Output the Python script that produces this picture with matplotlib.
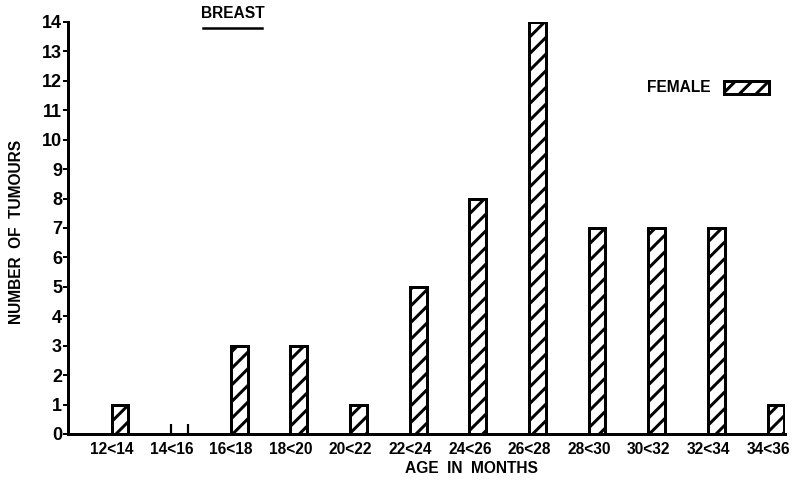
import matplotlib
matplotlib.use("Agg")
import matplotlib.pyplot as plt
from matplotlib.patches import Patch
from matplotlib.lines import Line2D
import matplotlib.transforms as mtrans

categories = ["12<14", "14<16", "16<18", "18<20", "20<22", "22<24",
              "24<26", "26<28", "28<30", "30<32", "32<34", "34<36"]
female = [1, 0, 3, 3, 1, 5, 8, 14, 7, 7, 7, 1]
yticks = list(range(0, 15))

DPI = 100
def px(v):
    """pixel size -> points at this dpi"""
    return v * 72.0 / DPI

plt.rcParams['font.family'] = ['Liberation Sans', 'DejaVu Sans']
plt.rcParams['font.weight'] = 'bold'
plt.rcParams['hatch.linewidth'] = px(3.0)
plt.rcParams['hatch.color'] = 'black'

fig = plt.figure(figsize=(793 / DPI, 484 / DPI), dpi=DPI)
ax = fig.add_axes([68 / 793, 1 - 434 / 484, (785 - 68) / 793, (434 - 22) / 484])

x = list(range(len(categories)))
w = 0.28
ax.bar([xi for xi, v in zip(x, female) if v > 0],
       [v for v in female if v > 0], width=w, color='white',
       edgecolor='black', linewidth=px(3), hatch='//', zorder=3)
# zero-valued class drawn as two short side strokes
for xi, v in zip(x, female):
    if v == 0:
        ax.vlines([xi - w / 2, xi + w / 2], 0, 0.35, color='black', lw=px(2.2), zorder=3)

ax.set_xlim(-0.87, 11.15)
ax.set_ylim(0, 14)
ax.set_yticks(yticks)
ax.set_yticklabels([str(t) for t in yticks], fontsize=px(18), fontweight='bold')
ax.set_xticks(x)
ax.set_xticklabels(categories, fontsize=px(15.5), fontweight='bold')
ax.tick_params(axis='x', length=0, pad=px(8))
ax.tick_params(axis='y', length=px(5), width=px(2), pad=px(1), direction='out')
off = mtrans.ScaledTranslation(-8 / DPI, 0, fig.dpi_scale_trans)
for lab in ax.get_xticklabels():
    lab.set_transform(lab.get_transform() + off)

for s in ['top', 'right']:
    ax.spines[s].set_visible(False)
for s in ['left', 'bottom']:
    ax.spines[s].set_linewidth(px(3))

ax.set_ylabel("NUMBER  OF  TUMOURS", fontsize=px(15.5), fontweight='bold')
ax.yaxis.set_label_coords(-0.061, 0.49)
ax.set_xlabel("AGE  IN  MONTHS", fontsize=px(15.5), fontweight='bold')
ax.xaxis.set_label_coords(0.563, -0.065)

# title with underline
fig.text(233 / 793, 1 - 14 / 484, "BREAST", fontsize=px(15.5), fontweight='bold',
         ha='center', va='center')
fig.add_artist(Line2D([203 / 793, 262 / 793], [1 - 28 / 484, 1 - 28 / 484],
                      color='black', lw=px(2.5)))

handle = Patch(facecolor='white', edgecolor='black', hatch='//', linewidth=px(3))
leg = ax.legend([handle], ["FEMALE"], loc='center',
                bbox_to_anchor=((708 - 68) / 717, 1 - (88 - 22) / 412),
                frameon=False, markerfirst=False, handlelength=2.9, handleheight=0.9,
                prop={'size': px(15.5), 'weight': 'bold'}, handletextpad=0.9)

fig.savefig("out.png", dpi=DPI)
